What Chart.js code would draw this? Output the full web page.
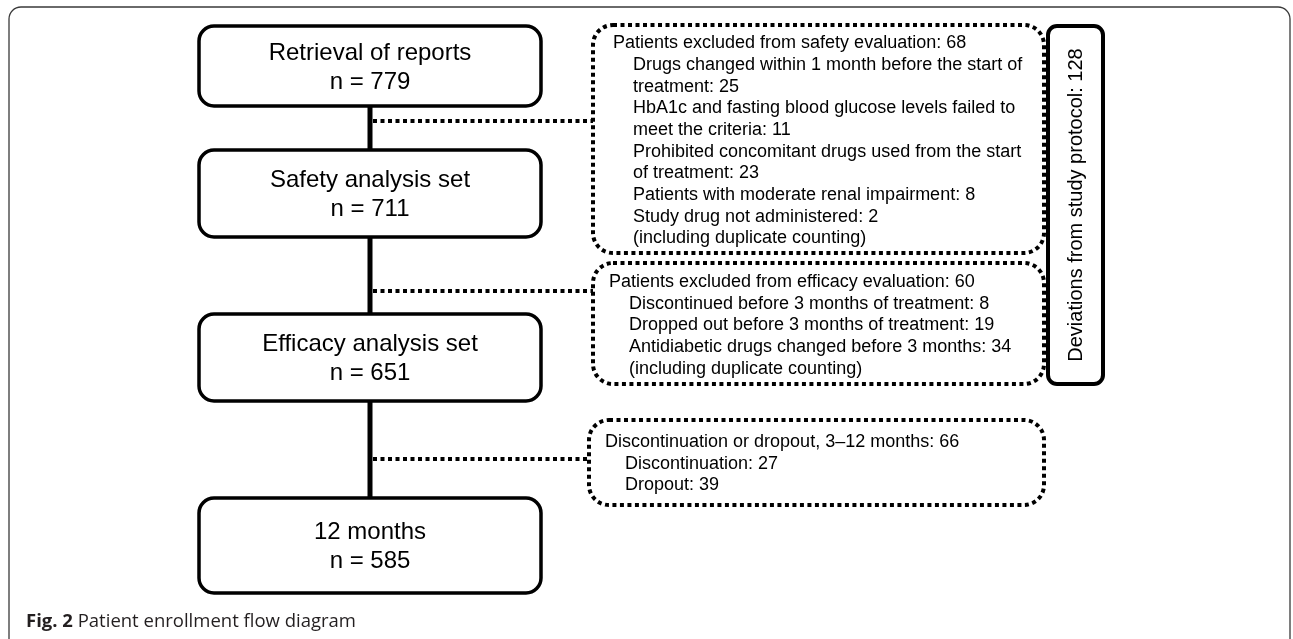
<!DOCTYPE html>
<html>
<head>
<meta charset="utf-8">
<script src="https://cdn.jsdelivr.net/npm/chart.js@4.4.1/dist/chart.umd.min.js"></script>
<style>
  html, body { margin: 0; padding: 0; background: #fff; }
  #wrap { width: 1293px; height: 639px; position: relative; }
</style>
</head>
<body>
<div id="wrap"><canvas id="flow"></canvas></div>
<script>
// flow stages (main column)
var stageNames = ['Retrieval of reports', 'Safety analysis set', 'Efficacy analysis set', '12 months'];
var stageCounts = [779, 711, 651, 585];

// exclusions between stages
var safetyTitle = 'Patients excluded from safety evaluation';
var safetyTotal = 68;
var safetyReasons = [
    'Drugs changed within 1 month before the start of\ntreatment',
    'HbA1c and fasting blood glucose levels failed to\nmeet the criteria',
    'Prohibited concomitant drugs used from the start\nof treatment',
    'Patients with moderate renal impairment',
    'Study drug not administered'
];
var safetyCounts = [25, 11, 23, 8, 2];

var efficacyTitle = 'Patients excluded from efficacy evaluation';
var efficacyTotal = 60;
var efficacyReasons = [
    'Discontinued before 3 months of treatment',
    'Dropped out before 3 months of treatment',
    'Antidiabetic drugs changed before 3 months'
];
var efficacyCounts = [8, 19, 34];

var dropTitle = 'Discontinuation or dropout, 3\u201312 months';
var dropTotal = 66;
var dropReasons = ['Discontinuation', 'Dropout'];
var dropCounts = [27, 39];

var dupNote = '(including duplicate counting)';
var deviationLabel = 'Deviations from study protocol';
var deviationTotal = safetyTotal + efficacyTotal;

var captionBold = 'Fig. 2';
var captionText = 'Patient enrollment flow diagram';

// layout, in scale units (scale runs 0..1293 by 0..639)
var mainBoxes = [
    { x0: 199, x1: 541, y0: 26, y1: 106 },
    { x0: 199, x1: 541, y0: 150, y1: 237 },
    { x0: 199, x1: 541, y0: 314, y1: 401 },
    { x0: 199, x1: 541, y0: 498, y1: 593 }
];
var spineX = 370;
var sideBoxes = [
    { x0: 593, x1: 1044, y0: 25, y1: 253, tx: 613, ix: 633, ty: 43.3 },
    { x0: 593, x1: 1044, y0: 263, y1: 384, tx: 609, ix: 629, ty: 282 },
    { x0: 589, x1: 1044, y0: 420, y1: 505, tx: 605, ix: 625, ty: 442 }
];
var branchY = [121, 291, 459];
var devBox = { x0: 1048, x1: 1103, y0: 26, y1: 384 };

function buildLines(title, total, reasons, counts, withNote) {
    var out = [{ t: title + ': ' + total, indent: false }];
    reasons.forEach(function (r, i) {
        var parts = (r + ': ' + counts[i]).split('\n');
        parts.forEach(function (p) { out.push({ t: p, indent: true }); });
    });
    if (withNote) out.push({ t: dupNote, indent: true });
    return out;
}
var sideLines = [
    buildLines(safetyTitle, safetyTotal, safetyReasons, safetyCounts, true),
    buildLines(efficacyTitle, efficacyTotal, efficacyReasons, efficacyCounts, true),
    buildLines(dropTitle, dropTotal, dropReasons, dropCounts, false)
];

function roundRect(ctx, x, y, w, h, r) {
    ctx.beginPath();
    ctx.moveTo(x + r, y);
    ctx.lineTo(x + w - r, y);
    ctx.arcTo(x + w, y, x + w, y + r, r);
    ctx.lineTo(x + w, y + h - r);
    ctx.arcTo(x + w, y + h, x + w - r, y + h, r);
    ctx.lineTo(x + r, y + h);
    ctx.arcTo(x, y + h, x, y + h - r, r);
    ctx.lineTo(x, y + r);
    ctx.arcTo(x, y, x + r, y, r);
    ctx.closePath();
}

var flowPlugin = {
    id: 'flow',
    afterDraw: function (chart) {
        var ctx = chart.ctx;
        var sx = chart.scales.x, sy = chart.scales.y;
        var px = function (v) { return sx.getPixelForValue(v); };
        var py = function (v) { return sy.getPixelForValue(v); };
        ctx.save();

        // outer frame
        ctx.strokeStyle = '#3a3a3a';
        ctx.lineWidth = 1.3;
        roundRect(ctx, px(9), py(7), px(1290) - px(9), py(660) - py(7), 12);
        ctx.stroke();

        // spine
        ctx.strokeStyle = '#000';
        ctx.lineWidth = 5;
        ctx.beginPath();
        ctx.moveTo(px(spineX), py(mainBoxes[0].y1));
        ctx.lineTo(px(spineX), py(mainBoxes[3].y0));
        ctx.stroke();

        // dotted branches
        ctx.lineWidth = 4;
        ctx.setLineDash([4, 3.5]);
        branchY.forEach(function (y, i) {
            ctx.beginPath();
            ctx.moveTo(px(spineX + 3), py(y));
            ctx.lineTo(px(sideBoxes[i].x0), py(y));
            ctx.stroke();
        });

        // dotted side boxes
        sideBoxes.forEach(function (b) {
            roundRect(ctx, px(b.x0), py(b.y0), px(b.x1) - px(b.x0), py(b.y1) - py(b.y0), 20);
            ctx.stroke();
        });
        ctx.setLineDash([]);

        // main boxes
        ctx.lineWidth = 3.5;
        ctx.fillStyle = '#fff';
        mainBoxes.forEach(function (b) {
            roundRect(ctx, px(b.x0), py(b.y0), px(b.x1) - px(b.x0), py(b.y1) - py(b.y0), 15);
            ctx.fill();
            ctx.stroke();
        });
        ctx.fillStyle = '#000';
        ctx.font = '24px "Liberation Sans", Arial, sans-serif';
        ctx.textAlign = 'center';
        ctx.textBaseline = 'middle';
        mainBoxes.forEach(function (b, i) {
            var cx = px((b.x0 + b.x1) / 2);
            var cy = py((b.y0 + b.y1) / 2 + 1.5);
            ctx.fillText(stageNames[i], cx, cy - 14.5);
            ctx.fillText('n = ' + stageCounts[i], cx, cy + 14.5);
        });

        // side box text
        ctx.font = '18px "Liberation Sans", Arial, sans-serif';
        ctx.textAlign = 'left';
        sideBoxes.forEach(function (b, i) {
            sideLines[i].forEach(function (ln, j) {
                ctx.fillText(ln.t, px(ln.indent ? b.ix : b.tx), py(b.ty + j * 21.67));
            });
        });

        // deviations box
        ctx.lineWidth = 4;
        roundRect(ctx, px(devBox.x0), py(devBox.y0), px(devBox.x1) - px(devBox.x0), py(devBox.y1) - py(devBox.y0), 9);
        ctx.stroke();
        ctx.save();
        ctx.translate(px((devBox.x0 + devBox.x1) / 2), py((devBox.y0 + devBox.y1) / 2));
        ctx.rotate(-Math.PI / 2);
        ctx.font = '20px "Liberation Sans", Arial, sans-serif';
        ctx.textAlign = 'center';
        ctx.fillText(deviationLabel + ': ' + deviationTotal, 0, 1);
        ctx.restore();

        // caption
        ctx.fillStyle = '#231f20';
        ctx.textAlign = 'left';
        ctx.font = 'bold 18.5px "Open Sans", "Noto Sans", sans-serif';
        ctx.fillText(captionBold, px(26), py(622));
        var w = ctx.measureText(captionBold + ' ').width;
        ctx.font = '18.5px "Open Sans", "Noto Sans", sans-serif';
        ctx.fillText(captionText, px(26) + w, py(622));

        ctx.restore();
    }
};

new Chart(document.getElementById('flow'), {
    type: 'scatter',
    data: { datasets: [] },
    options: {
        responsive: true,
        maintainAspectRatio: false,
        animation: false,
        layout: { padding: 0 },
        scales: {
            x: { type: 'linear', min: 0, max: 1293, display: false },
            y: { type: 'linear', min: 0, max: 639, reverse: true, display: false }
        },
        plugins: { legend: { display: false }, tooltip: { enabled: false } }
    },
    plugins: [flowPlugin]
});
</script>
</body>
</html>
